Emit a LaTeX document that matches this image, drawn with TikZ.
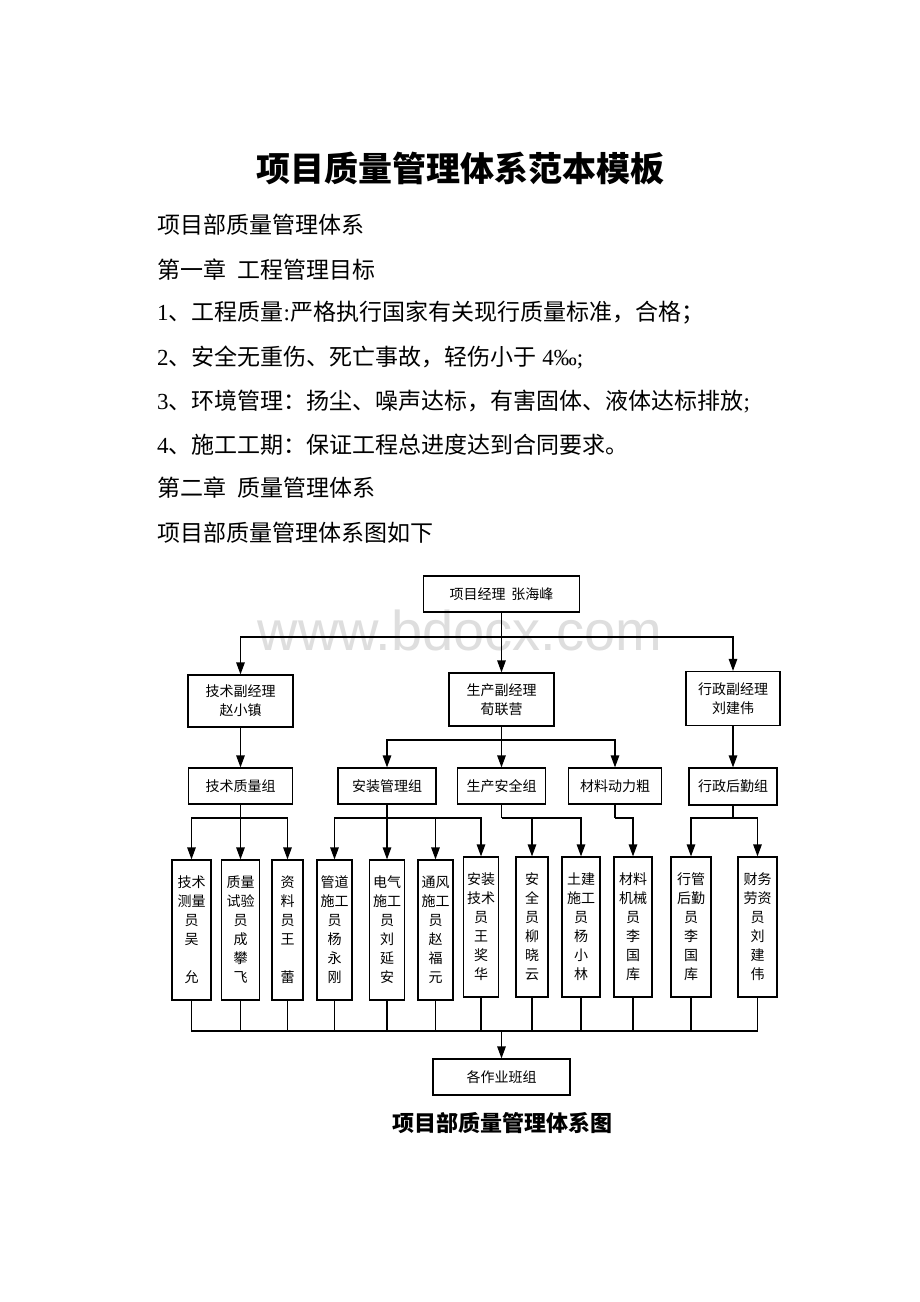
\documentclass[tikz,border=0pt]{standalone}
\usepackage{fontspec}
\setmainfont{Liberation Serif}
\newfontfamily\cjk{Noto Sans CJK SC}
\newfontfamily\wmfont{Liberation Sans}
\newfontfamily\latfont{Liberation Serif}
\newcommand\latx[1]{{\latfont #1}}
\usetikzlibrary{arrows.meta}
\begin{document}
\begin{tikzpicture}[x=1pt,y=-1pt,
  box/.style={draw,line width=1.2pt,inner sep=0pt,align=center,font=\cjk\fontsize{14}{19}\selectfont},
  ln/.style={line width=1.2pt},
  arr/.style={line width=1.2pt,-{Triangle[length=12pt,width=8.5pt]}},
  body/.style={anchor=west,inner sep=0pt,font=\cjk\fontsize{23}{23}\selectfont},
]
\useasboundingbox (0,0) rectangle (920,1302);
\fill[white] (0,0) rectangle (920,1302);

% watermark
\node[anchor=base,inner sep=0pt,text=black!13,font=\wmfont\fontsize{56}{56}\selectfont] (wm) at (460,650) {www.bdocx.com};

% title and text
\node[inner sep=0pt,font=\cjk\bfseries\fontsize{34}{34}\selectfont] (title) at (460,168) {项目质量管理体系范本模板};
\node[body] (t1) at (157,225) {项目部质量管理体系};
\node[body] (t2) at (157,270) {第一章\hspace{11pt}工程管理目标};
\node[body] (t3) at (157,313) {\latx{1}、工程质量\latx{:}严格执行国家有关现行质量标准，合格；};
\node[body] (t4) at (157,357) {\latx{2}、安全无重伤、死亡事故，轻伤小于\latx{ 4‰;}};
\node[body] (t5) at (157,402) {\latx{3}、环境管理：扬尘、噪声达标，有害固体、液体达标排放\latx{;}};
\node[body] (t6) at (157,445) {\latx{4}、施工工期：保证工程总进度达到合同要求。};
\node[body] (t7) at (157,488) {第二章\hspace{11pt}质量管理体系};
\node[body] (t8) at (157,533) {项目部质量管理体系图如下};

% level 1
\node[box,minimum width=156pt,minimum height=36pt] (pm) at (501.5,594) {项目经理\hspace{6pt}张海峰};
% level 2
\node[box,minimum width=105pt,minimum height=52pt] (m1) at (240.5,701) {技术副经理\\赵小镇};
\node[box,minimum width=105pt,minimum height=53pt] (m2) at (501.5,699.5) {生产副经理\\荀联营};
\node[box,minimum width=94pt,minimum height=54pt] (m3) at (733,698.5) {行政副经理\\刘建伟};
% level 3
\node[box,minimum width=104pt,minimum height=36pt] (g1) at (240.5,786) {技术质量组};
\node[box,minimum width=98pt,minimum height=36pt] (g2) at (387,786) {安装管理组};
\node[box,minimum width=88pt,minimum height=36pt] (g3) at (501.5,786) {生产安全组};
\node[box,minimum width=93pt,minimum height=36pt] (g4) at (615,786) {材料动力粗};
\node[box,minimum width=88pt,minimum height=37pt] (g5) at (733,786.5) {行政后勤组};
% level 4
\node[box,minimum width=39pt,minimum height=140pt] (w1) at (191.5,930) {技术\\测量\\员\\吴\\\mbox{}\\允};
\node[box,minimum width=38pt,minimum height=140pt] (w2) at (240.5,930) {质量\\试验\\员\\成\\攀\\飞};
\node[box,minimum width=31pt,minimum height=140pt] (w3) at (287.5,930) {资\\料\\员\\王\\\mbox{}\\蕾};
\node[box,minimum width=35pt,minimum height=140pt] (w4) at (334.5,930) {管道\\施工\\员\\杨\\永\\刚};
\node[box,minimum width=35pt,minimum height=140pt] (w5) at (387,930) {电气\\施工\\员\\刘\\延\\安};
\node[box,minimum width=35pt,minimum height=140pt] (w6) at (435.5,930) {通风\\施工\\员\\赵\\福\\元};
\node[box,minimum width=35pt,minimum height=140pt] (w7) at (481,927) {安装\\技术\\员\\王\\奖\\华};
\node[box,minimum width=32pt,minimum height=140pt] (w8) at (532,927) {安\\全\\员\\柳\\晓\\云};
\node[box,minimum width=38pt,minimum height=140pt] (w9) at (581,927) {土建\\施工\\员\\杨\\小\\林};
\node[box,minimum width=38pt,minimum height=140pt] (w10) at (633,927) {材料\\机械\\员\\李\\国\\库};
\node[box,minimum width=40pt,minimum height=140pt] (w11) at (691,927) {行管\\后勤\\员\\李\\国\\库};
\node[box,minimum width=39pt,minimum height=140pt] (w12) at (757.5,927) {财务\\劳资\\员\\刘\\建\\伟};
% bottom
\node[box,minimum width=137pt,minimum height=36pt] (team) at (501.5,1077) {各作业班组};
\node[inner sep=0pt,font=\cjk\bfseries\fontsize{22}{22}\selectfont] (cap) at (502,1123) {项目部质量管理体系图};

% connectors level 1 -> 2
\coordinate (b1) at (501.5,637);
\draw[ln] (pm.south) -- (b1);
\draw[arr] (b1) -| (m1.north);
\draw[arr] (b1) -- (m2.north);
\draw[arr] (b1) -| (m3.north);
% level 2 -> 3
\draw[arr] (m1.south) -- (g1.north);
\coordinate (b2) at (501.5,740);
\draw[ln] (m2.south) -- (b2);
\draw[arr] (b2) -| (g2.north);
\draw[arr] (b2) -- (g3.north);
\draw[arr] (b2) -| (g4.north);
\draw[arr] (m3.south) -- (g5.north);
% level 3 -> 4
\coordinate (c1) at (240.5,818);
\draw[ln] (g1.south) -- (c1);
\draw[arr] (c1) -| (w1.north);
\draw[arr] (c1) -- (w2.north);
\draw[arr] (c1) -| (w3.north);
\coordinate (c2) at (387,818);
\draw[ln] (g2.south) -- (c2);
\draw[arr] (c2) -| (w4.north);
\draw[arr] (c2) -- (w5.north);
\draw[arr] (c2) -| (w6.north);
\draw[arr] (c2) -| (w7.north);
\coordinate (c3) at (501.5,818);
\draw[ln] (g3.south) -- (c3);
\draw[arr] (c3) -| (w8.north);
\draw[arr] (c3) -| (w9.north);
\coordinate (c4) at (615,818);
\draw[ln] (g4.south) -- (c4);
\draw[arr] (c4) -| (w10.north);
\coordinate (c5) at (733,818);
\draw[ln] (g5.south) -- (c5);
\draw[arr] (c5) -| (w11.north);
\draw[arr] (c5) -| (w12.north);
% level 4 -> team
\coordinate (d) at (501.5,1031);
\foreach \w in {w1,w2,w3,w4,w5,w6,w7,w8,w9,w10,w11,w12}
  \draw[ln] (\w.south) |- (d);
\draw[arr] (d) -- (team.north);
\end{tikzpicture}
\end{document}
